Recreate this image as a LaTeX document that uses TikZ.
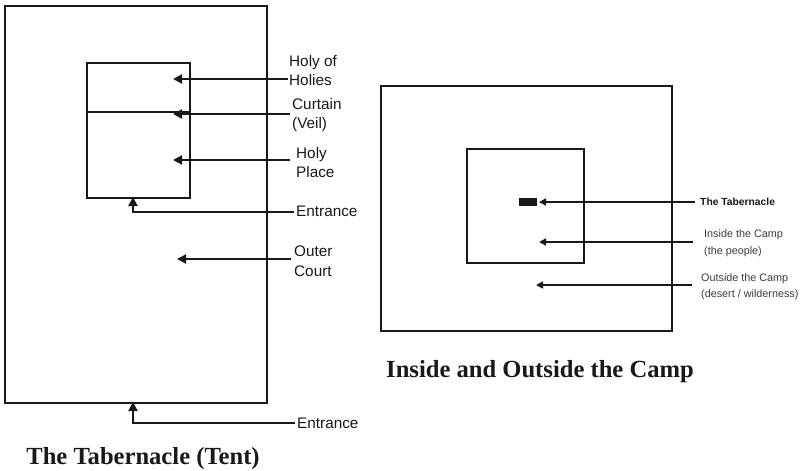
\documentclass[tikz,border=0pt]{standalone}
\usepackage{fontspec}
\setmainfont{Liberation Serif}
\setsansfont{Liberation Sans}
\usetikzlibrary{arrows.meta}
\definecolor{ink}{gray}{0.1}
\begin{document}
\begin{tikzpicture}[x=1pt,y=-1pt,
  area/.style={draw=ink, line width=2.6pt, inner sep=0pt, outer sep=0pt, anchor=north west},
  camp/.style={draw=ink, line width=2.1pt, inner sep=0pt, outer sep=0pt, anchor=north west},
  arr/.style={draw=ink, line width=2pt, -{Triangle[length=9pt,width=9pt]}},
  sarr/.style={draw=ink, line width=1.6pt, -{Triangle[length=7pt,width=7pt]}},
  lbl/.style={anchor=west, inner sep=0pt, align=left, text=ink, font=\sffamily\fontsize{15.3}{19.5}\selectfont},
  slbl/.style={anchor=west, inner sep=0pt, align=left, text=ink!85, font=\sffamily\fontsize{10.8}{16.5}\selectfont},
  ttl/.style={inner sep=0pt, text=ink, font=\rmfamily\bfseries\fontsize{24.6}{28}\selectfont}]
\useasboundingbox (0,0) rectangle (801,471);
\fill[white] (0,0) rectangle (801,471);

% ---------- left: the Tabernacle ----------
\node[area, minimum width=262pt, minimum height=397pt] (court) at (5,6) {};
\node[area, minimum width=103pt, minimum height=135pt] (tent) at (87,63) {};
\coordinate (veilL) at (87,112);
\coordinate (veilR) at (190,112);
\draw[ink, line width=2.4pt] (veilL) -- (veilR);

\node[lbl] (hoh) at (289,70.5) {Holy of\\Holies};
\node[lbl] (veil) at (292,115) {Curtain\\(Veil)};
\node[lbl] (hp) at (296,162.5) {Holy\\Place};
\node[lbl] (ent1) at (296,211) {Entrance};
\node[lbl] (oc) at (294,261) {Outer\\Court};
\node[lbl] (ent2) at (297,423) {Entrance};

\coordinate (hohS) at (288,79);  \coordinate (hohT) at (173,79);
\coordinate (veilS) at (290,114); \coordinate (veilT) at (173,114);
\coordinate (hpS) at (290,160);  \coordinate (hpT) at (173,160);
\coordinate (e1S) at (294,212);  \coordinate (e1T) at (133,197);
\coordinate (ocS) at (291,259);  \coordinate (ocT) at (177,259);
\coordinate (e2S) at (295,423);  \coordinate (e2T) at (133,402);

\draw[arr] (hohS) -- (hohT);
\draw[arr] (veilS) -- (veilT);
\draw[arr] (hpS) -- (hpT);
\draw[arr] (e1S) -- (e1S -| e1T) -- (e1T);
\draw[arr] (ocS) -- (ocT);
\draw[arr] (e2S) -- (e2S -| e2T) -- (e2T);

\node[ttl] (t1) at (143,459) {The Tabernacle (Tent)};

% ---------- right: the camp ----------
\node[camp, minimum width=291pt, minimum height=245pt] (outside) at (381,86) {};
\node[camp, minimum width=117pt, minimum height=114pt] (inside) at (467,149) {};
\node[fill=ink, inner sep=0pt, minimum width=18pt, minimum height=8pt, anchor=north west] (tab) at (519,198) {};

\node[slbl, text=ink, font=\sffamily\bfseries\fontsize{10.3}{16.5}\selectfont] (ltab) at (700,202) {The Tabernacle};
\node[slbl] (lin) at (704,243) {Inside the Camp\\(the people)};
\node[slbl] (lout) at (701,286.5) {Outside the Camp\\(desert / wilderness)};

\coordinate (tabS) at (695,202); \coordinate (tabT) at (539,202);
\coordinate (inS) at (693,242);  \coordinate (inT) at (539,242);
\coordinate (outS) at (692,285); \coordinate (outT) at (536,285);
\draw[sarr] (tabS) -- (tabT);
\draw[sarr] (inS) -- (inT);
\draw[sarr] (outS) -- (outT);

\node[ttl] (t2) at (540,372) {Inside and Outside the Camp};
\end{tikzpicture}
\end{document}
